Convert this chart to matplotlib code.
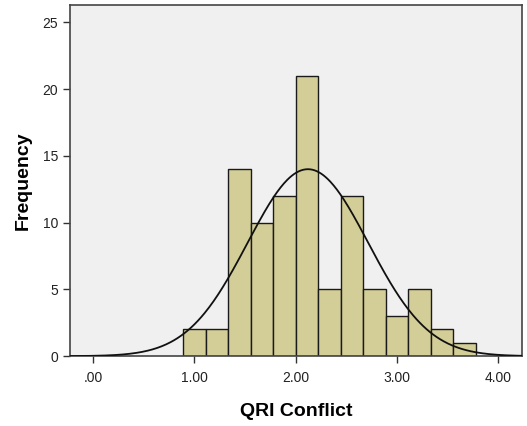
import numpy as np
import matplotlib
matplotlib.use('Agg')
import matplotlib.pyplot as plt

plt.rcParams['font.family'] = ['Liberation Sans', 'DejaVu Sans']

# Histogram of QRI Conflict (bin width 2/9, 13 bins)
bin_edges = [0.889, 1.111, 1.333, 1.556, 1.778, 2.0, 2.222, 2.444,
             2.667, 2.889, 3.111, 3.333, 3.556, 3.778]
counts = [2, 2, 14, 10, 12, 21, 5, 12, 5, 3, 5, 2, 1]

# fitted normal curve
mean = 2.12
sd = 0.595
n_total = sum(counts)

x_ticks = [0, 1, 2, 3, 4]
x_labels = ['.00', '1.00', '2.00', '3.00', '4.00']
y_ticks = [0, 5, 10, 15, 20, 25]

fig = plt.figure(figsize=(5.27, 4.26), dpi=100)
ax = fig.add_axes([0.133, 0.164, 0.857, 0.824])
ax.set_facecolor('#f0f0f0')

widths = np.diff(bin_edges)
ax.bar(bin_edges[:-1], counts, width=widths, align='edge',
       color='#d3ce97', edgecolor='#1a1a1a', linewidth=1.0, zorder=2)

bw = widths.mean()
xs = np.linspace(-0.23, 4.23, 400)
ys = n_total * bw / (sd * np.sqrt(2 * np.pi)) * np.exp(-0.5 * ((xs - mean) / sd) ** 2)
ax.plot(xs, ys, color='#111111', linewidth=1.3, zorder=3)

ax.set_xlim(-0.227, 4.23)
ax.set_ylim(0, 26.3)
ax.set_xticks(x_ticks)
ax.set_xticklabels(x_labels)
ax.set_yticks(y_ticks)
ax.tick_params(direction='out', length=5, width=1, color='#333333',
               labelsize=10, labelcolor='#222222')
ax.tick_params(axis='x', pad=6)
for s in ax.spines.values():
    s.set_color('#444444')
    s.set_linewidth(1.2)

ax.set_xlabel('QRI Conflict', fontsize=14, fontweight='bold', labelpad=13)
ax.set_ylabel('Frequency', fontsize=14, fontweight='bold', labelpad=8)

fig.savefig('out.png', dpi=100)
